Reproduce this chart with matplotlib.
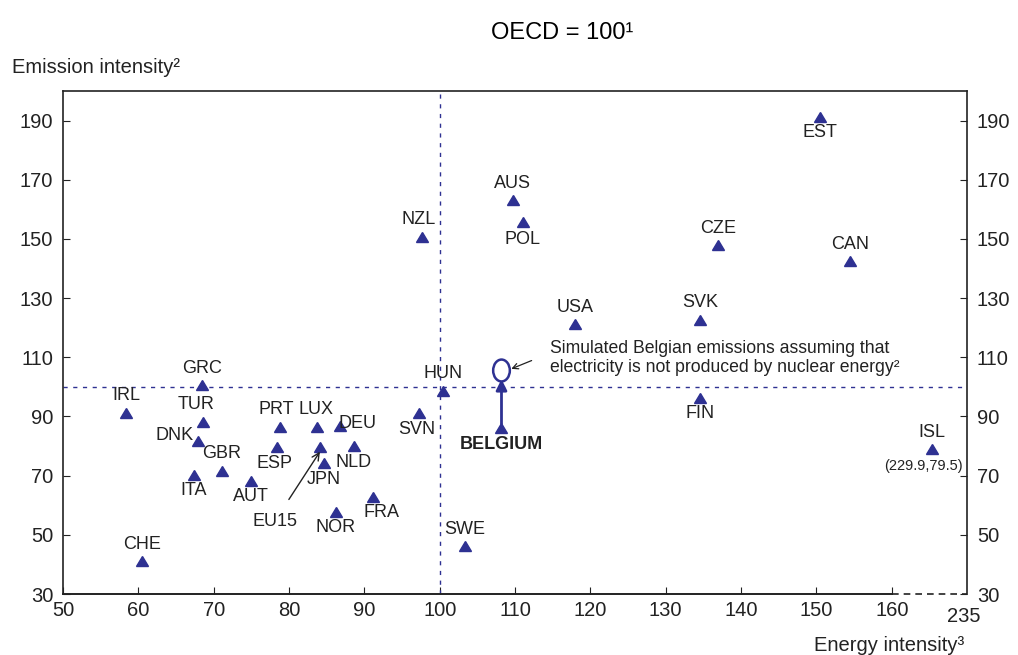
import numpy as np
import matplotlib.pyplot as plt
from matplotlib.markers import MarkerStyle
from matplotlib.transforms import Affine2D

plt.rcParams['font.family'] = ['Liberation Sans', 'DejaVu Sans']

# data (OECD = 100)
countries = ["EST", "AUS", "POL", "NZL", "CZE", "CAN", "USA", "SVK", "HUN", "GRC",
             "IRL", "TUR", "DNK", "GBR", "ITA", "AUT", "PRT", "ESP", "LUX", "EU15",
             "DEU", "JPN", "NLD", "NOR", "FRA", "SVN", "SWE", "CHE", "FIN", "ISL"]
energy = [150.5, 109.7, 111.0, 97.7, 136.9, 154.5, 118.0, 134.6, 100.5, 68.4,
          58.4, 68.6, 67.9, 71.1, 67.4, 74.9, 78.8, 78.4, 83.7, 84.1,
          86.7, 84.6, 88.6, 86.2, 91.2, 97.2, 103.3, 60.5, 134.6, 165.3]
emission = [191.3, 163.0, 155.6, 150.8, 147.8, 142.4, 121.1, 122.5, 98.5, 100.5,
            91.1, 88.1, 81.6, 71.5, 70.2, 68.1, 86.4, 79.6, 86.4, 79.6,
            86.7, 74.2, 80.0, 57.7, 62.7, 91.1, 46.2, 41.1, 96.2, 78.9]
# label offsets in points (dx, dy)
offsets = {"EST": (0, -11), "AUS": (0, 12.5), "POL": (0, -12), "NZL": (-3, 12.5),
           "CZE": (0, 12.5), "CAN": (0, 12.5), "USA": (0, 12.5), "SVK": (0, 12.5),
           "HUN": (0, 12.5), "GRC": (0, 12.5), "IRL": (0, 12.5), "TUR": (-5, 12.5),
           "DNK": (-17, 4), "GBR": (0, 12.5), "ITA": (0, -11), "AUT": (0, -11),
           "PRT": (-3, 12.5), "ESP": (-2, -12), "LUX": (-1, 12.5), "EU15": (0, 0),
           "DEU": (13, 2), "JPN": (0, -12), "NLD": (0, -12), "NOR": (0, -11),
           "FRA": (6, -11), "SVN": (-1, -12), "SWE": (0, 12), "CHE": (0, 12),
           "FIN": (0, -11), "ISL": (0, 12)}

bel_x, bel_y = 108.2, 86.0
bel_sim_y = 105.6
isl_real = (229.9, 79.5)
eu15_label = (78.1, 54.6)

xticks = [50, 60, 70, 80, 90, 100, 110, 120, 130, 140, 150, 160]
yticks = [30, 50, 70, 90, 110, 130, 150, 170, 190]

blue = "#2e3192"
dark = "#222222"

fig = plt.figure(figsize=(10.18, 6.55), dpi=100)
ax = fig.add_axes([0.0619, 0.0931, 0.8881, 0.768])
ax.set_xlim(50, 170)
ax.set_ylim(30, 200)

ax.axvline(100, color=blue, ls=(0, (3, 4)), lw=1)
ax.axhline(100, color=blue, ls=(0, (3, 4)), lw=1)

tri = MarkerStyle("^", transform=Affine2D().scale(1.0, 0.82))
ax.plot(energy, emission, ls="none", marker=tri, ms=8.8, color=blue, mec=blue)
ax.plot([bel_x], [bel_y], ls="none", marker=tri, ms=8.8, color=blue)

for c, x, y in zip(countries, energy, emission):
    if c == "EU15":
        continue
    dx, dy = offsets[c]
    ax.annotate(c, (x, y), xytext=(dx, dy), textcoords="offset points",
                ha="center", va="center", fontsize=13, color=dark)

ax.annotate("EU15", xy=(energy[19], emission[19] - 1.5), xytext=eu15_label,
            ha="center", va="center", fontsize=13, color=dark,
            arrowprops=dict(arrowstyle="->", color=dark, lw=1,
                            shrinkA=9, shrinkB=0))

ax.annotate("(%.1f,%.1f)" % isl_real, (energy[-1], emission[-1]),
            xytext=(-6, -12), textcoords="offset points", ha="center",
            va="center", fontsize=10.5, color=dark)

# Belgium
ax.annotate("BELGIUM", (bel_x, bel_y), xytext=(0, -12), textcoords="offset points",
            ha="center", va="center", fontsize=13, fontweight="bold", color=dark)
ring = MarkerStyle("o", transform=Affine2D().scale(0.8, 1.05))
ax.plot([bel_x], [bel_sim_y], ls="none", marker=ring, ms=15, mfc="white",
        mec=blue, mew=1.8)
ax.annotate("", xy=(bel_x, bel_sim_y - 3.0), xytext=(bel_x, bel_y + 1.5),
            arrowprops=dict(arrowstyle="-|>", color=blue, lw=2,
                            mutation_scale=16, shrinkA=0, shrinkB=0))
ax.annotate("", xy=(bel_x + 1.3, bel_sim_y + 0.5), xytext=(bel_x + 4.0, bel_sim_y + 3.3),
            arrowprops=dict(arrowstyle="->", color=dark, lw=0.9,
                            mutation_scale=10, shrinkA=0, shrinkB=0))
ax.text(114.6, 109.7, "Simulated Belgian emissions assuming that\n"
        "electricity is not produced by nuclear energy\u00b2",
        fontsize=12.7, color=dark, ha="left", va="center", linespacing=1.2)

# axes / broken x axis
for s in ax.spines.values():
    s.set_color(dark)
    s.set_linewidth(1.2)
ax.spines["bottom"].set_visible(False)
ax.plot([50, 160], [30, 30], color=dark, lw=1.4, clip_on=False)
ax.plot([160, 170], [30, 30], color=dark, lw=1.2, ls=(0, (4, 3)), clip_on=False)

ax.set_xticks(xticks)
ax.set_xticklabels([str(t) for t in xticks])
ax.set_yticks(yticks)
ax.tick_params(axis="both", direction="in", length=5, color=dark,
               labelsize=14.5, labelcolor=dark)
ax.tick_params(axis="y", right=True, labelright=True, pad=7)
ax.tick_params(axis="x", pad=5)
ax.text(169.5, 25.5, "235", ha="center", va="top", fontsize=14.5, color=dark)

fig.text(0.552, 0.949, "OECD = 100\u00b9", ha="center", va="center",
         fontsize=17, color="black")
fig.text(0.012, 0.897, "Emission intensity\u00b2", ha="left", va="center",
         fontsize=14.5, color=dark)
fig.text(0.947, 0.015, "Energy intensity\u00b3", ha="right", va="center",
         fontsize=14.5, color=dark)

fig.savefig("out.png", dpi=100)
